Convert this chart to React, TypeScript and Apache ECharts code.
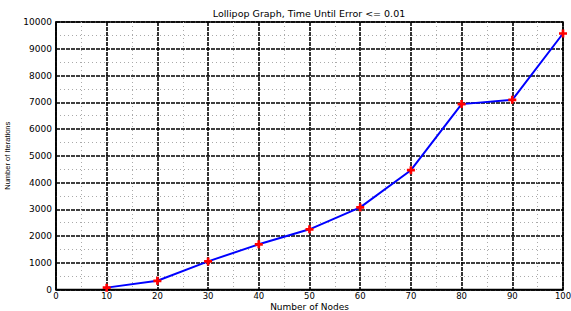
import React, { useEffect, useRef } from "react";
import * as echarts from "echarts";

const nodes = [10, 20, 30, 40, 50, 60, 70, 80, 90, 100];
const iterations = [70, 325, 1050, 1690, 2250, 3070, 4460, 6930, 7090, 9570];

const FONT = "DejaVu Sans, Liberation Sans, sans-serif";

export default function App() {
  const ref = useRef<HTMLDivElement>(null);
  useEffect(() => {
    const chart = echarts.init(ref.current!, null, { renderer: "svg" });
    const majorLine = { show: true, lineStyle: { color: "#000", width: 1.6, type: [4, 1] as any } };
    const minorLine = { show: true, lineStyle: { color: "#aaa", width: 1, type: [1, 3] as any } };
    chart.setOption({
      animation: false,
      backgroundColor: "#fff",
      title: {
        text: "Lollipop Graph, Time Until Error <= 0.01",
        left: 309,
        textAlign: "center",
        top: 8,
        padding: 0,
        textStyle: { fontFamily: FONT, fontSize: 9.5, fontWeight: "normal", color: "#000" },
      },
      grid: {
        left: 56,
        right: 8,
        top: 22,
        bottom: 21.5,
        show: true,
        borderColor: "#000",
        borderWidth: 1.5,
        outerBoundsMode: "none",
        containLabel: false,
      },
      xAxis: {
        type: "value",
        min: 0,
        max: 100,
        interval: 10,
        name: "Number of Nodes",
        nameLocation: "middle",
        nameGap: 12,
        nameMoveOverlap: false,
        nameTextStyle: { fontFamily: FONT, fontSize: 9, color: "#000", lineHeight: 10 },
        axisLine: { show: true, lineStyle: { color: "#000", width: 1.5 } },
        axisTick: { show: false },
        axisLabel: { fontFamily: FONT, fontSize: 8.5, color: "#000", margin: 2, lineHeight: 9 },
        splitLine: majorLine,
        minorTick: { show: false, splitNumber: 2 },
        minorSplitLine: minorLine,
      },
      yAxis: {
        type: "value",
        min: 0,
        max: 10000,
        interval: 1000,
        name: "Number of Iterations",
        nameLocation: "middle",
        nameGap: 45,
        nameMoveOverlap: false,
        nameTextStyle: { fontFamily: "Liberation Sans, sans-serif", fontSize: 7.5, color: "#000" },
        axisLine: { show: true, lineStyle: { color: "#000", width: 1.5 } },
        axisTick: { show: false },
        axisLabel: { fontFamily: FONT, fontSize: 9, color: "#000", margin: 4, formatter: (v: number) => String(v) },
        splitLine: majorLine,
        minorTick: { show: false, splitNumber: 2 },
        minorSplitLine: minorLine,
      },
      series: [
        {
          type: "line",
          data: nodes.map((n, i) => [n, iterations[i]]),
          lineStyle: { color: "#0000ff", width: 2 },
          itemStyle: { color: "#ff0000" },
          symbol: "path://M2,0h2v2h2v2h-2v2h-2v-2h-2v-2h2z",
          symbolSize: 8,
          showSymbol: true,
        },
      ],
    });
    return () => chart.dispose();
  }, []);
  return <div ref={ref} style={{ width: 571, height: 311, position: "absolute", left: 0, top: 0 }} />;
}
